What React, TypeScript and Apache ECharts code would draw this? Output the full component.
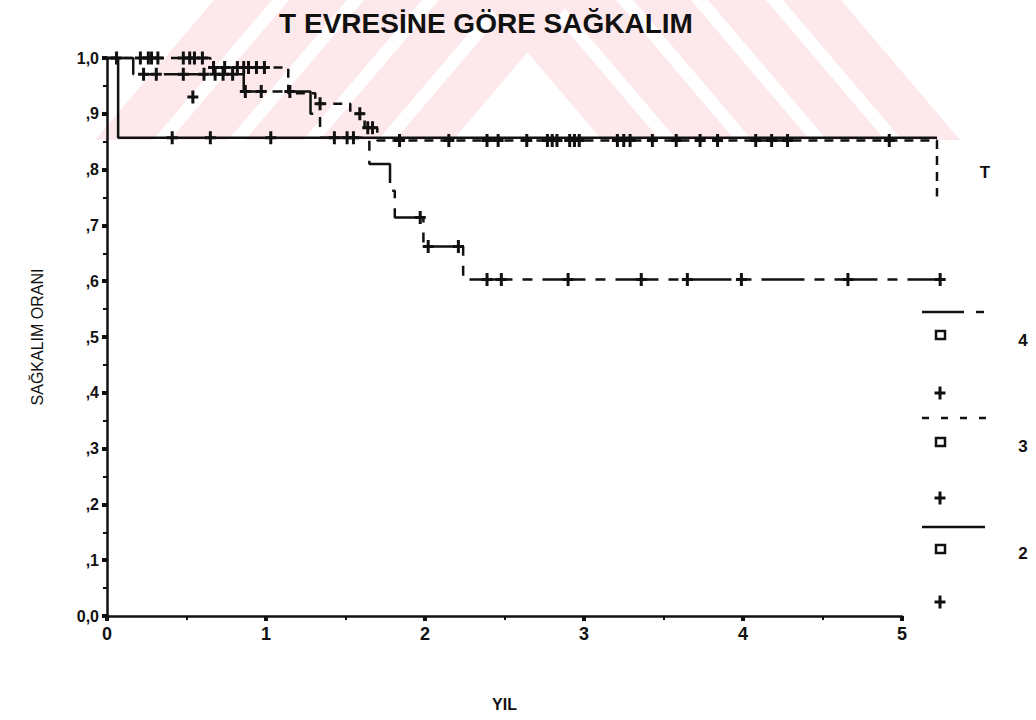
import React, { useEffect, useRef } from "react";
import * as echarts from "echarts";

// ---- data ----
const xTickValues = [0, 1, 2, 3, 4, 5];
const yTickLabels: Record<string, string> = {
  "0": "0,0", "0.1": ",1", "0.2": ",2", "0.3": ",3", "0.4": ",4", "0.5": ",5",
  "0.6": ",6", "0.7": ",7", "0.8": ",8", "0.9": ",9", "1": "1,0",
};
const groupNames = ["4", "3", "2"];

// T = 2 (solid)
const group2Events = [[0.07, 0.857]];
const group2End = 5.22;
const group2Censored = [0.41, 0.65, 1.03, 1.43, 1.51, 1.55];

// T = 3 (short dashes)
const group3Events = [
  [0.65, 0.983], [1.14, 0.937], [1.31, 0.918], [1.53, 0.9], [1.62, 0.875], [1.7, 0.852], [5.22, 0.752],
];
const group3End = 5.22;
const group3Censored = [
  0.06, 0.21, 0.26, 0.28, 0.32, 0.48, 0.52, 0.55, 0.6, 0.67, 0.74, 0.82, 0.86, 0.89, 0.94, 0.99,
  1.34, 1.59, 1.64, 1.67, 1.84, 2.15, 2.39, 2.46, 2.64, 2.77, 2.8, 2.83, 2.91, 2.94, 2.97, 3.21,
  3.25, 3.29, 3.43, 3.58, 3.73, 3.84, 4.08, 4.18, 4.28, 4.92,
];
const strayCensored = [[0.54, 0.93]];

// T = 4 (long-short dashes)
const group4Events = [
  [0.165, 0.971], [0.86, 0.94], [1.28, 0.9], [1.34, 0.857], [1.65, 0.81], [1.78, 0.762],
  [1.81, 0.714], [1.99, 0.662], [2.24, 0.603],
];
const group4End = 5.24;
const group4Censored = [
  0.23, 0.31, 0.48, 0.61, 0.68, 0.73, 0.79, 0.87, 0.97, 1.15, 1.97, 2.02, 2.21, 2.39, 2.48, 2.9,
  3.36, 3.65, 3.99, 4.66, 5.24,
];

// ---- helpers ----
const survAt = (events: number[][], t: number) => {
  let s = 1;
  for (const [et, es] of events) if (et <= t) s = es;
  return s;
};
const stepLine = (events: number[][], end: number) => {
  const pts: number[][] = [[0, 1]];
  let prev = 1;
  for (const [t, s] of events) {
    pts.push([t, prev]);
    pts.push([t, s]);
    prev = s;
  }
  pts.push([end, prev]);
  return pts;
};
const censorPts = (events: number[][], times: number[]) => times.map((t) => [t, survAt(events, t)]);

const FONT = "'Liberation Sans Narrow', 'Liberation Sans', 'Arial Narrow', Arial, sans-serif";
const INK = "#111";
const PLUS = "path://M4,0H7V13H4Z M0,5H11V8H0Z";

const GRID_LEFT = 107;
const GRID_TOP = 58;
const GRID_BOTTOM = 104;
const GRID_RIGHT = 134;
const PLOT_X_MAX = 5.25;
const PX_PER_YEAR = (1036 - GRID_LEFT - GRID_RIGHT) / 5;
const GRID2_RIGHT = 1036 - GRID_LEFT - PX_PER_YEAR * PLOT_X_MAX;

const plusMark = (x: number, y: number) => ({
  type: "group",
  children: [
    { type: "rect", shape: { x: x - 1.5, y: y - 6.5, width: 3, height: 13 }, style: { fill: INK } },
    { type: "rect", shape: { x: x - 5.5, y: y - 1.5, width: 11, height: 3 }, style: { fill: INK } },
  ],
});

const watermark = () => {
  const els: any[] = [];
  const pink = "#fde8eb";
  const H = 140;
  const slope = 0.85 * H;
  const leftStarts = [95, 170, 245, 320, 395];
  for (const a of leftStarts) {
    els.push({
      type: "polygon",
      z: -10,
      silent: true,
      shape: { points: [[a, H], [a + 58, H], [a + 58 + slope, 0], [a + slope, 0]] },
      style: { fill: pink },
    });
  }
  const rightStarts = [960, 885, 810, 735, 660];
  for (const b of rightStarts) {
    els.push({
      type: "polygon",
      z: -10,
      silent: true,
      shape: { points: [[b, H], [b - 58, H], [b - 58 - slope, 0], [b - slope, 0]] },
      style: { fill: pink },
    });
  }
  return els;
};

export default function App() {
  const ref = useRef<HTMLDivElement>(null);
  useEffect(() => {
    if (!ref.current) return;
    const chart = echarts.init(ref.current, undefined, { renderer: "svg" });
    const lineSeries = (data: number[][], type: any) => ({
      type: "line",
      xAxisIndex: 1,
      yAxisIndex: 1,
      data,
      showSymbol: false,
      clip: false,
      silent: true,
      z: 3,
      lineStyle: { color: INK, width: 2.5, type },
    });
    const scatterSeries = (data: number[][]) => ({
      type: "scatter",
      xAxisIndex: 1,
      yAxisIndex: 1,
      data,
      symbol: PLUS,
      symbolSize: [11, 13],
      clip: false,
      silent: true,
      z: 4,
      itemStyle: { color: INK, opacity: 1 },
    });
    const legendGraphics: any[] = [
      { type: "text", x: 985, y: 172, style: { text: "T", font: `bold 17px ${FONT}`, fill: INK, align: "center", verticalAlign: "middle" } },
      // group 4
      { type: "line", shape: { x1: 922, y1: 312, x2: 964, y2: 312 }, style: { stroke: INK, lineWidth: 2.5 } },
      { type: "line", shape: { x1: 976, y1: 312, x2: 984, y2: 312 }, style: { stroke: INK, lineWidth: 2.5 } },
      { type: "rect", shape: { x: 936, y: 331, width: 9, height: 8 }, style: { fill: "#fff", stroke: INK, lineWidth: 2.5 } },
      { type: "text", x: 1023, y: 340, style: { text: groupNames[0], font: `bold 17px ${FONT}`, fill: INK, align: "center", verticalAlign: "middle" } },
      plusMark(940, 393),
      // group 3
      { type: "line", shape: { x1: 922, y1: 418, x2: 986, y2: 418 }, style: { stroke: INK, lineWidth: 2.5, lineDash: [7, 12] } },
      { type: "rect", shape: { x: 936, y: 438, width: 9, height: 8 }, style: { fill: "#fff", stroke: INK, lineWidth: 2.5 } },
      { type: "text", x: 1023, y: 446, style: { text: groupNames[1], font: `bold 17px ${FONT}`, fill: INK, align: "center", verticalAlign: "middle" } },
      plusMark(940, 498),
      // group 2
      { type: "line", shape: { x1: 922, y1: 527, x2: 985, y2: 527 }, style: { stroke: INK, lineWidth: 2.5 } },
      { type: "rect", shape: { x: 936, y: 545, width: 9, height: 8 }, style: { fill: "#fff", stroke: INK, lineWidth: 2.5 } },
      { type: "text", x: 1023, y: 553, style: { text: groupNames[2], font: `bold 17px ${FONT}`, fill: INK, align: "center", verticalAlign: "middle" } },
      plusMark(940, 602),
    ];
    chart.setOption({
      animation: false,
      backgroundColor: "#fff",
      title: {
        text: "T EVRESİNE GÖRE SAĞKALIM",
        left: 481,
        top: 4,
        textAlign: "center",
        textStyle: { fontFamily: FONT, fontSize: 28, fontWeight: "bold", color: INK },
      },
      grid: [
        { left: GRID_LEFT, right: GRID_RIGHT, top: GRID_TOP, bottom: GRID_BOTTOM },
        { left: GRID_LEFT, right: GRID2_RIGHT, top: GRID_TOP, bottom: GRID_BOTTOM },
      ],
      xAxis: [
        {
          type: "value",
          gridIndex: 0,
          min: 0,
          max: 5,
          interval: 1,
          name: "YIL",
          nameLocation: "middle",
          nameGap: 80,
          nameTextStyle: { fontFamily: FONT, fontSize: 16, fontWeight: "bold", color: INK },
          axisLine: { lineStyle: { color: INK, width: 2.5 } },
          axisTick: { show: true, length: 5, lineStyle: { color: INK, width: 4 } },
          minorTick: { show: true, splitNumber: 2, length: 4, lineStyle: { color: INK, width: 2 } },
          splitLine: { show: false },
          axisLabel: {
            margin: 9,
            fontFamily: FONT,
            fontSize: 18,
            fontWeight: "bold",
            color: INK,
            formatter: (v: number) => (xTickValues.includes(v) ? String(v) : ""),
          },
        },
        {
          type: "value",
          gridIndex: 1,
          min: 0,
          max: PLOT_X_MAX,
          show: false,
        },
      ],
      yAxis: [
        {
          type: "value",
          gridIndex: 0,
          min: 0,
          max: 1,
          interval: 0.1,
          name: "SAĞKALIM ORANI",
          nameLocation: "middle",
          nameRotate: 90,
          nameGap: 62,
          nameTextStyle: { fontFamily: FONT, fontSize: 16, color: INK },
          axisLine: { show: true, lineStyle: { color: INK, width: 2.5 } },
          axisTick: { show: true, length: 5, lineStyle: { color: INK, width: 4 } },
          minorTick: { show: true, splitNumber: 2, length: 4, lineStyle: { color: INK, width: 2 } },
          splitLine: { show: false },
          axisLabel: {
            margin: 8,
            fontFamily: FONT,
            fontSize: 16,
            fontWeight: "bold",
            color: INK,
            formatter: (v: number) => yTickLabels[String(Math.round(v * 10) / 10)] ?? "",
          },
        },
        {
          type: "value",
          gridIndex: 1,
          min: 0,
          max: 1,
          show: false,
        },
      ],
      series: [
        lineSeries(stepLine(group2Events, group2End), "solid"),
        lineSeries(stepLine(group3Events, group3End), [9, 7]),
        lineSeries(stepLine(group4Events, group4End), [43, 10, 10, 10]),
        scatterSeries(censorPts(group2Events, group2Censored)),
        scatterSeries(censorPts(group3Events, group3Censored)),
        scatterSeries(strayCensored),
        scatterSeries(censorPts(group4Events, group4Censored)),
      ],
      graphic: [...watermark(), ...legendGraphics],
    });
    return () => chart.dispose();
  }, []);
  return (
    <div
      ref={ref}
      style={{ position: "fixed", left: 0, top: 0, width: 1036, height: 720 }}
    />
  );
}
